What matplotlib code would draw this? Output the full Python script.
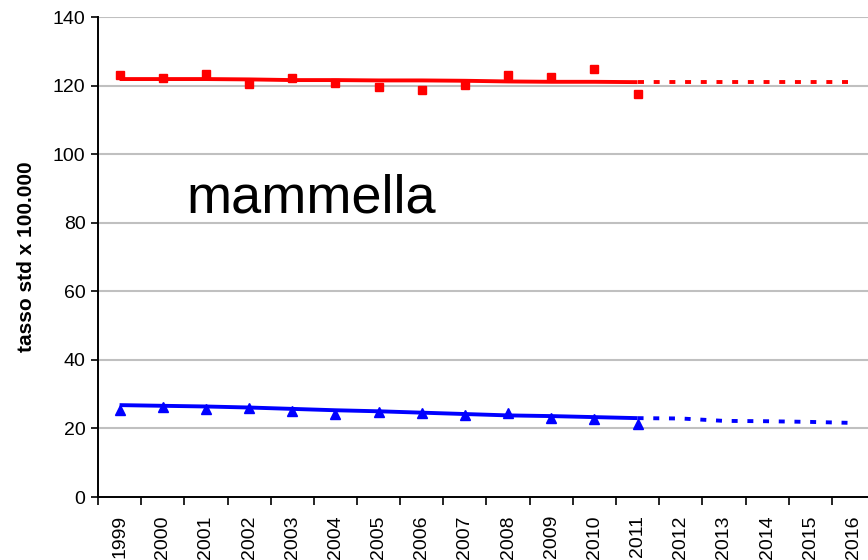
import matplotlib
matplotlib.use('Agg')
import matplotlib.pyplot as plt
import numpy as np

years = [str(y) for y in range(1999, 2017)]
n_obs = 13  # 1999-2011 observed

red_obs = [123.0, 122.2, 123.4, 120.5, 122.2, 120.7, 119.5, 118.8, 120.3, 123.0, 122.6, 124.9, 117.6]
red_fit = [121.9, 121.9, 121.9, 121.8, 121.6, 121.6, 121.5, 121.5, 121.4, 121.2, 121.1, 121.1, 121.0]
red_proj = [121.0, 121.0, 121.0, 121.0, 121.0, 121.0]  # 2011-2016

blue_obs = [25.4, 26.3, 25.6, 26.1, 25.2, 24.3, 24.9, 24.4, 24.0, 24.6, 22.9, 22.7, 21.4]
blue_fit = [26.8, 26.6, 26.4, 26.1, 25.7, 25.3, 25.0, 24.6, 24.2, 23.8, 23.6, 23.3, 23.0]
blue_proj = [23.0, 22.9, 22.2, 22.1, 21.9, 21.6]  # 2011-2016

y_ticks = [0, 20, 40, 60, 80, 100, 120, 140]
annotation = "mammella"
ylabel = "tasso std x 100.000"

plt.rcParams['font.family'] = ['Liberation Sans', 'DejaVu Sans']
plt.rcParams['lines.scale_dashes'] = False

W, H = 868, 560
fig = plt.figure(figsize=(W / 100, H / 100), dpi=100)
ax = fig.add_axes([98 / W, 1 - 497 / H, 777 / W, 480 / H])

x = np.arange(len(years))
xo = x[:n_obs]
xp = x[n_obs - 1:]

ax.set_xlim(-0.5, len(years) - 0.5)
ax.set_ylim(0, 140)

for yt in y_ticks[1:]:
    ax.axhline(yt, color='#c0c0c0', lw=1.5, zorder=0)

red = '#ff0000'
blue = '#0000ff'
ax.plot(xo, red_fit, color=red, lw=2.8, zorder=3, solid_capstyle='butt')
ax.plot(xp, red_proj, color=red, lw=2.8, dashes=(4.3, 7.0), zorder=3)
ax.plot(xo, red_obs, ls='none', marker='s', ms=5.4, color=red, zorder=4)

ax.plot(xo, blue_fit, color=blue, lw=2.8, zorder=3, solid_capstyle='butt')
ax.plot(xp, blue_proj, color=blue, lw=2.8, dashes=(4.3, 7.0), zorder=3)
ax.plot(xo, blue_obs, ls='none', marker='^', ms=6.5, color=blue, zorder=4)

ax.spines['top'].set_visible(False)
ax.spines['right'].set_visible(False)
ax.spines['left'].set_linewidth(1.4)
ax.spines['bottom'].set_linewidth(1.4)

ax.set_yticks(y_ticks)
ax.set_yticklabels([str(v) for v in y_ticks], fontsize=14)
ax.tick_params(axis='y', direction='out', length=5, width=1.2, pad=4)

ax.set_xticks(x)
ax.set_xticklabels(years, rotation=90, fontsize=14)
ax.set_xticks(np.arange(-0.5, len(years)), minor=True)
ax.tick_params(axis='x', which='major', length=0, pad=13)
ax.tick_params(axis='x', which='minor', direction='out', length=6, width=1.2)

ax.set_ylabel(ylabel, fontsize=15, fontweight='bold', labelpad=12)

ax.text(1.54, 83.1, annotation, fontsize=39, ha='left', va='baseline')

fig.savefig('out.png', dpi=100)
